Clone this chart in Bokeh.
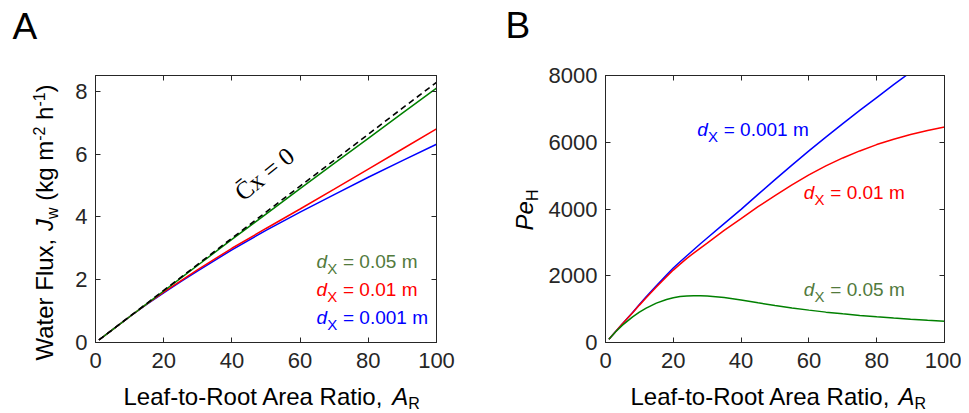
import math
from bokeh.plotting import figure
from bokeh.models import Range1d, FixedTicker, LinearAxis, Label, CustomLabelingPolicy
from bokeh.layouts import row, column
from bokeh.embed import file_html
from bokeh.resources import INLINE

# ---------------- data ----------------
# Panel A: water flux J_w (kg m-2 h-1) vs leaf-to-root area ratio A_R
ratio_a = [1, 5, 10, 15, 20, 25, 30, 40, 50, 60, 70, 80, 90, 100]
flux_cx0 = [0.08, 0.41, 0.83, 1.24, 1.66, 2.07, 2.49, 3.32, 4.15, 4.98, 5.80, 6.63, 7.46, 8.28]
flux_d005 = [0.08, 0.41, 0.82, 1.23, 1.64, 2.05, 2.46, 3.28, 4.09, 4.90, 5.70, 6.50, 7.30, 8.10]
flux_d001 = [0.08, 0.41, 0.82, 1.22, 1.60, 1.96, 2.32, 3.00, 3.63, 4.25, 4.88, 5.52, 6.16, 6.80]
flux_d0001 = [0.08, 0.41, 0.82, 1.21, 1.58, 1.94, 2.28, 2.95, 3.57, 4.15, 4.71, 5.26, 5.79, 6.31]

# Panel B: Peclet number Pe_H vs A_R
ratio_b = [1, 3, 5, 8, 10, 12, 15, 18, 20, 22, 24, 26, 28, 30, 35, 40, 45, 50, 55, 60,
           65, 70, 75, 80, 85, 90, 95, 100]
pe_d0001 = [100, 330, 560, 900, 1140, 1370, 1700, 2020, 2230, 2420, 2600, 2780, 2960, 3130,
            3560, 3990, 4440, 4880, 5315, 5740, 6155, 6560, 6955, 7340, 7725, 8100, 8480, 8860]
pe_d001 = [100, 330, 560, 890, 1120, 1340, 1660, 1970, 2170, 2350, 2520, 2680, 2830, 2980,
           3360, 3710, 4070, 4400, 4720, 5020, 5290, 5530, 5740, 5930, 6090, 6230, 6350, 6460]
pe_d005 = [100, 320, 520, 770, 910, 1030, 1180, 1290, 1340, 1375, 1395, 1400, 1398, 1390,
           1345, 1275, 1190, 1110, 1035, 970, 910, 860, 812, 770, 733, 700, 668, 640]

xticks = [0, 20, 40, 60, 80, 100]
yticks_a = [0, 2, 4, 6, 8]
yticks_b = [0, 2000, 4000, 6000, 8000]

FONT = "Liberation Sans"
AX = "#262626"
GREEN = "#008000"
GREEN_TXT = "#527a3c"
RED = "#ff0000"
BLUE = "#0000ff"

TOP_H = 62
MID_H = 318
BOT_H = 33
BASE_SHIFT = 0.36  # em; compensates the renderer's baseline offset

# mirror axes (top/right) show tick marks only: drop all their labels
NO_LABELS = """
try {
  for (const i of Array.from(indices)) { indices.unset(i) }
} catch (e) {
  try { for (const i of Array.from(indices)) { indices.set(i, false) } } catch (e2) {}
}
return indices
"""


def make_fig(width, left, right, yr, yt):
    p = figure(width=width, height=MID_H, x_range=Range1d(0, 100), y_range=yr,
               output_backend="svg", toolbar_location=None, title=None,
               min_border_left=left, min_border_right=right,
               min_border_top=13, min_border_bottom=38, frame_align=False)
    p.grid.visible = False
    p.outline_line_color = AX
    p.outline_line_width = 1
    p.background_fill_color = "white"
    p.border_fill_color = "white"
    p.xaxis.ticker = FixedTicker(ticks=xticks)
    p.yaxis.ticker = FixedTicker(ticks=yt)
    for ax in list(p.xaxis) + list(p.yaxis):
        ax.axis_line_color = AX
        ax.major_tick_line_color = AX
        ax.major_tick_in = 5
        ax.major_tick_out = 0
        ax.minor_tick_line_color = None
        ax.major_label_text_font = FONT
        ax.major_label_text_font_size = "22px"
        ax.major_label_text_color = AX
    p.xaxis.major_label_standoff = 10
    p.yaxis.major_label_standoff = 8
    for loc, t in (("above", xticks), ("right", yt)):
        ax = LinearAxis(ticker=FixedTicker(ticks=t), major_label_text_font_size="0px",
                        major_label_policy=CustomLabelingPolicy(code=NO_LABELS),
                        major_tick_in=5, major_tick_out=0, minor_tick_line_color=None,
                        axis_line_color=AX, major_tick_line_color=AX, major_label_standoff=0)
        p.add_layout(ax, loc)
    return p


def strip(x0, x1, y0, y1):
    """Blank text-carrier figure whose data coordinates equal page pixels."""
    s = figure(width=x1 - x0, height=y1 - y0, x_range=Range1d(x0, x1), y_range=Range1d(y1, y0),
               output_backend="svg", toolbar_location=None, title=None,
               min_border=0, frame_align=False)
    s.axis.visible = False
    s.grid.visible = False
    s.outline_line_color = None
    s.background_fill_color = "white"
    s.border_fill_color = "white"
    return s


p1 = make_fig(418, 33, 44, Range1d(0, 8.5), yticks_a)
p2 = make_fig(419, 63, 17, Range1d(0, 8000), yticks_b)

Y1 = TOP_H + MID_H
top = strip(0, 961, 0, TOP_H)
yla = strip(0, 62, TOP_H, Y1)
ylb = strip(480, 542, TOP_H, Y1)
bot = strip(0, 961, Y1, Y1 + BOT_H)

# lines
p1.line(ratio_a, flux_d0001, line_color=BLUE, line_width=1.5)
p1.line(ratio_a, flux_d001, line_color=RED, line_width=1.5)
p1.line(ratio_a, flux_d005, line_color=GREEN, line_width=1.5)
p1.line(ratio_a, flux_cx0, line_color="black", line_width=1.6, line_dash="6 4")

p2.line(ratio_b, pe_d0001, line_color=BLUE, line_width=1.5)
p2.line(ratio_b, pe_d001, line_color=RED, line_width=1.5)
p2.line(ratio_b, pe_d005, line_color=GREEN, line_width=1.5)


# page-pixel -> data helpers for annotation placement
def pa(px, py):
    return (px - 95) / 341 * 100, (342 - py) / 267 * 8.5


def pb(px, py):
    return (px - 605) / 339 * 100, (342 - py) / 267 * 8000


def ident(px, py):
    return px, py


def lab(p, conv, px, py, text, size, color=AX, style="normal", angle=0, font=FONT):
    d = BASE_SHIFT * size
    th = math.radians(angle)
    px = px - math.sin(th) * d
    py = py - math.cos(th) * d
    x, y = conv(px, py)
    p.add_layout(Label(x=x, y=y, text=text, text_font=font, text_font_size=f"{size}px",
                       text_color=color, text_font_style=style, angle=angle,
                       angle_units="deg", text_align="left", text_baseline="alphabetic"))


# panel letters
lab(top, ident, 12, 39, "A", 37, color="black")
lab(top, ident, 505, 38, "B", 37, color="black")

# x labels
for x0, xa in ((123, 391.7), (630, 898)):
    lab(bot, ident, x0, 405, "Leaf-to-Root Area Ratio,", 24, color="black")
    lab(bot, ident, xa, 405, "A", 24, color="black", style="italic")
    lab(bot, ident, xa + 16, 409, "R", 16, color="black")

# y label A (rotated)
lab(yla, ident, 53, 360, "Water Flux,", 24, color="black", angle=90)
lab(yla, ident, 53, 230.6, "J", 24, color="black", style="italic", angle=90)
lab(yla, ident, 58, 218.6, "w", 16, color="black", angle=90)
lab(yla, ident, 53, 200.3, "(kg m", 24, color="black", angle=90)
lab(yla, ident, 44, 140.3, "-2", 16, color="black", angle=90)
lab(yla, ident, 53, 119.4, "h", 24, color="black", angle=90)
lab(yla, ident, 44, 106.1, "-1", 16, color="black", angle=90)
lab(yla, ident, 53, 91.9, ")", 24, color="black", angle=90)

# y label B
lab(ylb, ident, 533, 230, "Pe", 24, color="black", style="italic", angle=90)
lab(ylb, ident, 538, 200.6, "H", 16, color="black", angle=90)

# C_x = 0 label along dashed line
lab(p1, pa, 243, 202, "C\u0304x = 0", 25, color="black", angle=39, font="Liberation Serif")


# series labels
def dlabel(p, conv, xd, base, rest, color):
    lab(p, conv, xd, base, "d", 19, color=color, style="italic")
    lab(p, conv, xd + 10.8, base + 5.5, "X", 15, color=color)
    lab(p, conv, xd + 26.5, base, rest, 19, color=color)


dlabel(p1, pa, 316, 267.5, "= 0.05 m", GREEN_TXT)
dlabel(p1, pa, 316, 296, "= 0.01 m", RED)
dlabel(p1, pa, 316, 324, "= 0.001 m", BLUE)

dlabel(p2, pb, 696.7, 136, "= 0.001 m", BLUE)
dlabel(p2, pb, 803.3, 199, "= 0.01 m", RED)
dlabel(p2, pb, 803.3, 296, "= 0.05 m", GREEN_TXT)

layout = column(top, row(yla, p1, ylb, p2), bot)
open("out.html", "w").write(file_html(layout, INLINE))
